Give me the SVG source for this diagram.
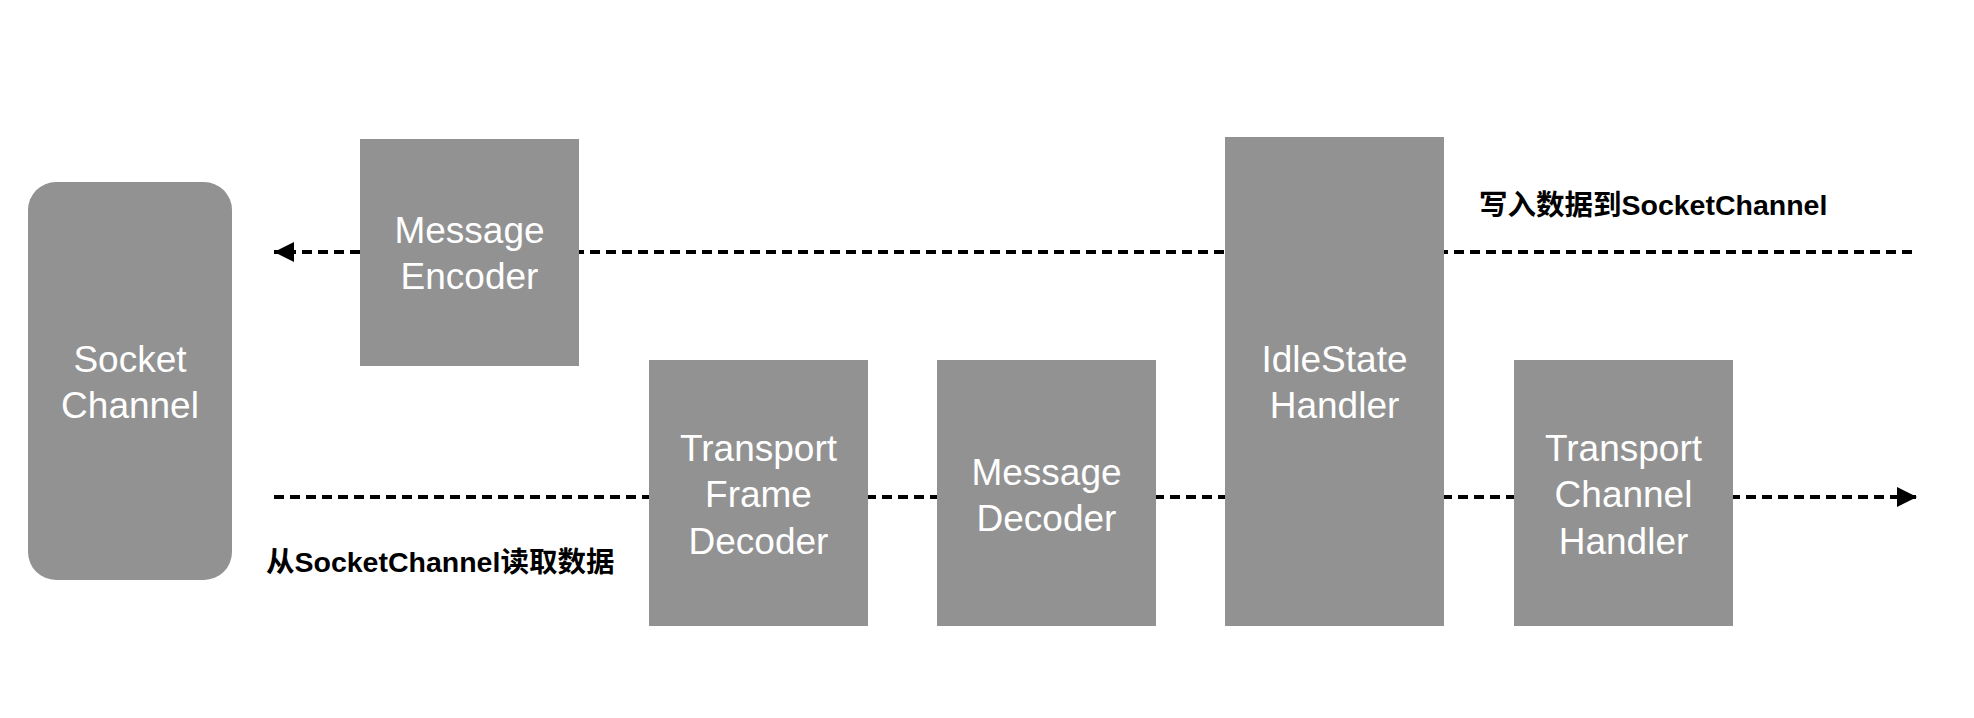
<svg xmlns="http://www.w3.org/2000/svg" width="1974" height="718" viewBox="0 0 1974 718">
  <style>
    .box { fill: #929292; }
    .nt { fill: #ffffff; font-family: "Liberation Sans", Arial, sans-serif; font-size: 37px; text-anchor: middle; }
    .lbl { fill: #000000; font-family: "Liberation Sans", "Noto Sans CJK SC", sans-serif; font-size: 28.5px; font-weight: bold; }
    .flow { stroke: #000000; stroke-width: 4; stroke-dasharray: 10 6; fill: none; }
  </style>
  <defs>
    <marker id="arrow" viewBox="0 0 20 20" refX="20" refY="10" markerWidth="20" markerHeight="20" markerUnits="userSpaceOnUse" orient="auto">
      <path d="M0,0 L20,10 L0,20 Z" fill="#000000"/>
    </marker>
  </defs>
  <rect width="1974" height="718" fill="#ffffff"/>
  <g id="connectors">
    <line class="flow" x1="1912" y1="252" x2="274" y2="252" marker-end="url(#arrow)"/>
    <line class="flow" x1="274" y1="497" x2="1917" y2="497" marker-end="url(#arrow)"/>
  </g>
  <g id="socket-channel">
    <rect class="box" x="28" y="182" width="204" height="398" rx="28" ry="28"/>
    <text class="nt" x="130" y="372">Socket</text>
    <text class="nt" x="130" y="418">Channel</text>
  </g>
  <g id="message-encoder">
    <rect class="box" x="360" y="139" width="219" height="227"/>
    <text class="nt" x="469.5" y="242.5">Message</text>
    <text class="nt" x="469.5" y="289">Encoder</text>
  </g>
  <g id="transport-frame-decoder">
    <rect class="box" x="649" y="360" width="219" height="266"/>
    <text class="nt" x="758.5" y="460.5">Transport</text>
    <text class="nt" x="758.5" y="507">Frame</text>
    <text class="nt" x="758.5" y="553.5">Decoder</text>
  </g>
  <g id="message-decoder">
    <rect class="box" x="937" y="360" width="219" height="266"/>
    <text class="nt" x="1046.5" y="484.5">Message</text>
    <text class="nt" x="1046.5" y="531">Decoder</text>
  </g>
  <g id="idlestate-handler">
    <rect class="box" x="1225" y="137" width="219" height="489"/>
    <text class="nt" x="1334.5" y="372">IdleState</text>
    <text class="nt" x="1334.5" y="418">Handler</text>
  </g>
  <g id="transport-channel-handler">
    <rect class="box" x="1514" y="360" width="219" height="266"/>
    <text class="nt" x="1623.5" y="460.5">Transport</text>
    <text class="nt" x="1623.5" y="507">Channel</text>
    <text class="nt" x="1623.5" y="553.5">Handler</text>
  </g>
  <g id="labels">
    <text class="lbl" x="1479" y="215">写入数据到SocketChannel</text>
    <text class="lbl" x="266" y="572">从SocketChannel读取数据</text>
  </g>
</svg>
